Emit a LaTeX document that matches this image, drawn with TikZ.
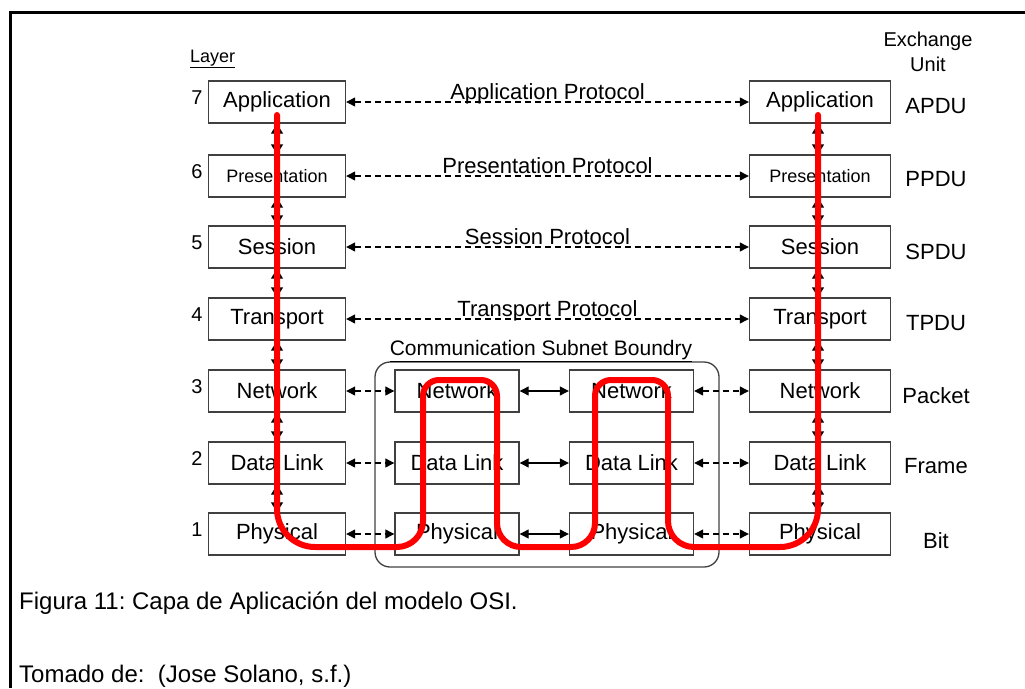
\documentclass[tikz,border=0pt]{standalone}
\usepackage{fontspec}
\setmainfont{Liberation Sans}
\usetikzlibrary{arrows.meta}
\newcommand{\fs}[1]{\fontsize{#1}{#1}\selectfont}
\frenchspacing
\begin{document}
\begin{tikzpicture}[x=1pt,y=-1pt,
  layerbox/.style={draw=black!75, line width=1.4pt, minimum width=137pt,
    minimum height=42pt, inner sep=0pt, font=\fs{22}},
  relaybox/.style={layerbox, minimum width=124pt},
  peerlink/.style={dashed, dash pattern=on 6pt off 4pt, line width=1.2pt,
    {Triangle[length=9pt,width=9pt]}-{Triangle[length=9pt,width=9pt]}},
  hoplink/.style={line width=1.2pt,
    {Triangle[length=9pt,width=9pt]}-{Triangle[length=9pt,width=9pt]}},
  stacklink/.style={line width=1.4pt,
    {Triangle[length=10pt,width=12pt]}-{Triangle[length=10pt,width=12pt]}},
  protolabel/.style={font=\fs{22}, anchor=base, yshift=3pt, inner sep=0pt},
  unitlabel/.style={font=\fs{22}, anchor=base, inner sep=0pt},
  numlabel/.style={font=\fs{20}, inner sep=0pt},
  datapath/.style={draw=red, line width=6pt, line cap=round, line join=round}
]
\useasboundingbox (0,0) rectangle (1025,688);

% page frame
\draw[line width=3pt, line join=miter] (10,688) -- (10,12) -- (1025,12);

% column headings
\node[font=\fs{18}, anchor=base west, inner sep=0pt] (layerhead) at (190,62) {\underline{Layer}};
\node[font=\fontsize{20}{25}\selectfont, align=center, inner sep=0pt] (unithead) at (928,52) {Exchange\\Unit};

% host stacks
\foreach \n/\y/\t/\s in {7/102/Application/22, 6/176/Presentation/18, 5/247/Session/22,
                      4/319/Transport/22, 3/391/Network/22, 2/463/Data Link/22, 1/534/Physical/22} {
  \node[layerbox, font=\fs{\s}] (L\n) at (277,\y) {\t};
  \node[layerbox, font=\fs{\s}, minimum width=141pt] (R\n) at (820,\y) {\t};
  \node[numlabel] (num\n) at (197,\y-4) {\n};
}

% exchange units
\foreach \n/\y/\t in {7/113/APDU, 6/186/PPDU, 5/259/SPDU, 4/330/TPDU,
                      3/403/Packet, 2/473/Frame, 1/548/Bit}
  \node[unitlabel] (U\n) at (936,\y) {\t};

% subnet boundary
\node[draw=black!75, line width=1.3pt, rounded corners=15pt, minimum width=344pt,
      minimum height=205pt, inner sep=0pt] (subnet) at (547,464.5) {};
\node[font=\fs{21}, anchor=base, inner sep=0pt] (subnethead) at (541,355)
  {\underline{Communication Subnet Boundry}};

% relay nodes inside the subnet
\foreach \n/\y/\t in {3/391/Network, 2/463/Data Link, 1/534/Physical} {
  \node[relaybox] (A\n) at (457,\y) {\t};
  \node[relaybox] (B\n) at (631.5,\y) {\t};
}

% peer protocols
\draw[peerlink] (L7.east) -- (R7.west) node[protolabel, midway] {Application Protocol};
\draw[peerlink] (L6.east) -- (R6.west) node[protolabel, midway] {Presentation Protocol};
\draw[peerlink] (L5.east) -- (R5.west) node[protolabel, midway] {Session Protocol};
\draw[peerlink] (L4.east) -- (R4.west) node[protolabel, midway] {Transport Protocol};

% hops through the subnet
\foreach \n in {3,2,1} {
  \draw[peerlink] (L\n.east) -- (A\n.west);
  \draw[hoplink] (A\n.east) -- (B\n.west);
  \draw[peerlink] (B\n.east) -- (R\n.west);
}

% vertical links inside each stack
\foreach \a/\b in {7/6, 6/5, 5/4, 4/3, 3/2, 2/1} {
  \draw[stacklink] (L\a.south) -- (L\b.north);
  \draw[stacklink] ([xshift=-2pt]R\a.south) -- ([xshift=-2pt]R\b.north);
}

% data path
\draw[datapath] (277,115) [rounded corners=38pt] -- (277,547) [rounded corners=26pt] -- (423,547)
  [rounded corners=16pt] -- (423,380) -- (497,380) [rounded corners=24pt] -- (497,547)
  -- (595,547) [rounded corners=16pt] -- (595,380) -- (668,380) [rounded corners=26pt]
  -- (668,547) [rounded corners=38pt] -- (818,547) -- (818,115);

% caption
\node[font=\fs{24}, anchor=base west, inner sep=0pt] (caption) at (19,609)
  {Figura 11: Capa de Aplicación del modelo OSI.};
\node[font=\fs{24}, anchor=base west, inner sep=0pt] (source) at (19,682)
  {Tomado de:\ \ (Jose Solano, s.f.)};
\end{tikzpicture}
\end{document}
